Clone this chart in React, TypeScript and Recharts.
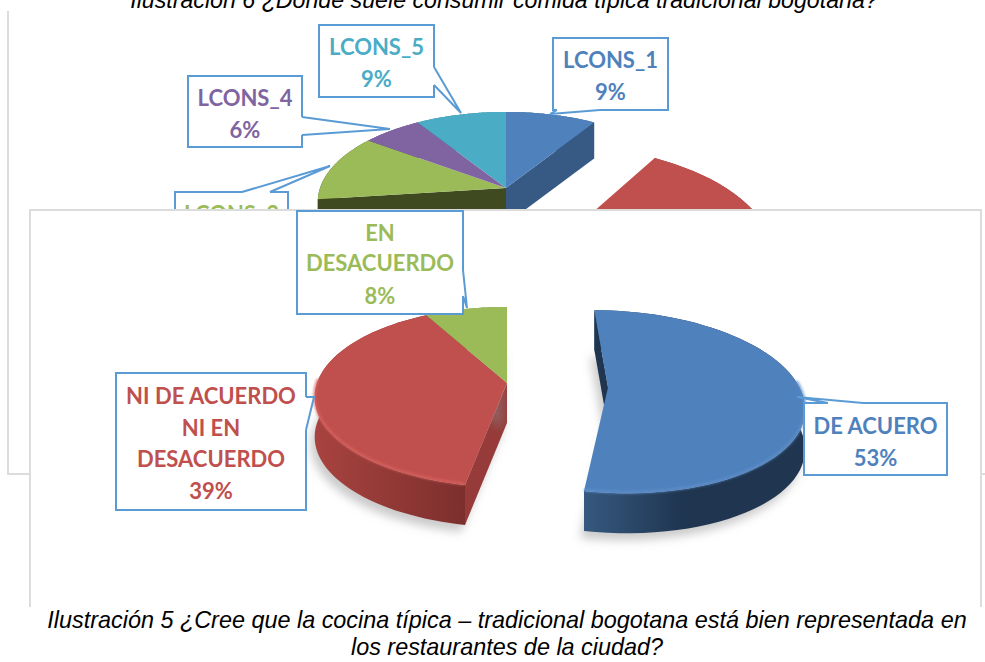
import React from "react";
import { Pie, PieChart } from "recharts";

// back chart (mostly hidden by the front panel)
const backNames = ["LCONS_1", "LCONS_2", "LCONS_3", "LCONS_4", "LCONS_5"];
const backValues = [9, 64, 12, 6, 9];
const backTop = ["#4f81bd", "#c0504d", "#9bbb59", "#8064a2", "#4bacc6"];
const backSide = ["#375a85", "#8a3836", "#404a20", "#5a4774", "#357a8c"];
const backExplode = [0, 0.575, 0, 0, 0];

// front chart
const frontNames = ["DE ACUERO", "NI DE ACUERDO NI EN DESACUERDO", "EN DESACUERDO"];
const frontValues = [53, 39, 8];
const frontTop = ["#4f81bd", "#c0504d", "#9bbb59"];
const frontSide = ["#1f3550", "#963b39", "#6f8640"];
const frontExplode = [0.53, 0, 0];

const wallStops: Record<string, string[]> = {
  "DE ACUERO": ["#36597f", "#1f3550", "45%"],
  "NI DE ACUERDO NI EN DESACUERDO": ["#a8433f", "#7c2f2d", "100%"],
};
const rimColors: Record<string, string> = {
  "DE ACUERO": "#5f90ca",
  "NI DE ACUERDO NI EN DESACUERDO": "#d9625f",
};

type Callout = { lines: string[]; x: number; y: number; w: number; h: number; tail: number[][]; textY: number[] };

const backCallouts: Record<string, Callout> = {
  LCONS_1: { lines: ["LCONS_1", "9%"], x: 553, y: 38, w: 115, h: 72, tail: [[557, 110], [550, 114], [600, 110]], textY: [59, 91] },
  LCONS_3: { lines: ["LCONS_3"], x: 175, y: 192, w: 113, h: 72, tail: [[242, 192], [330, 166], [270, 192]], textY: [213] },
  LCONS_4: { lines: ["LCONS_4", "6%"], x: 188, y: 76, w: 114, h: 71, tail: [[302, 117], [390, 129], [302, 135]], textY: [97, 129] },
  LCONS_5: { lines: ["LCONS_5", "9%"], x: 319, y: 25, w: 115, h: 72, tail: [[434, 67], [461, 113], [434, 85]], textY: [46, 78] },
};
const frontCallouts: Record<string, Callout> = {
  "DE ACUERO": { lines: ["DE ACUERO", "53%"], x: 804, y: 403, w: 143, h: 72, tail: [[828, 403], [797, 397], [863, 403]], textY: [425, 457] },
  "NI DE ACUERDO NI EN DESACUERDO": {
    lines: ["NI DE ACUERDO", "NI EN", "DESACUERDO", "39%"],
    x: 116, y: 373, w: 190, h: 137, tail: [[306, 397], [314, 397], [306, 430]], textY: [395, 427, 458, 490],
  },
  "EN DESACUERDO": {
    lines: ["EN", "DESACUERDO", "8%"],
    x: 297, y: 211, w: 166, h: 103, tail: [[463, 270], [467, 308], [463, 296]], textY: [232, 262, 295],
  },
};

const PERSPECTIVE = 0.155;
const BOX_BLUE = "#5b9bd5";

function makeTable(names: string[], values: number[], tops: string[], sides: string[], explode: number[]) {
  const n = names.length;
  return names.map((name, i) => ({
    name,
    value: values[i],
    fill: tops[i],
    side: sides[i],
    explode: explode[i],
    // a cut face is only there when this slice or the neighbour is pulled out
    openStart: explode[i] > 0 || explode[(i + n - 1) % n] > 0,
    openEnd: explode[i] > 0 || explode[(i + 1) % n] > 0,
  }));
}

const pathOf = (pts: number[][]) => pts.map((p, i) => `${i ? "L" : "M"}${p[0].toFixed(1)} ${p[1].toFixed(1)}`).join(" ");

// does the side wall along apex->edge show below the top face?
function wallShows(apex: number[], edge: number[], inner: number[]) {
  const dx = edge[0] - apex[0];
  const dy = edge[1] - apex[1];
  return dx * (inner[1] - apex[1]) - dy * (inner[0] - apex[0]) < 0 ? dx > 0 : dx < 0;
}

// 3D slice: the sector recharts hands over, pushed through a small perspective.
// Drawn by two Pies: the walls first, then the tops, so a wall never paints over a neighbour.
function makeSlice(ry: number, depth: number, rim: boolean, pass: "wall" | "top") {
  return function Slice(props: any) {
    const { cx, cy, outerRadius, startAngle, endAngle, payload } = props;
    const row = payload ?? props;
    const t0 = ((90 - startAngle) * Math.PI) / 180;
    const t1 = ((90 - endAngle) * Math.PI) / 180;
    const mid = (t0 + t1) / 2;
    const ou = row.explode * Math.sin(mid);
    const ov = -row.explode * Math.cos(mid);
    const project = (u: number, v: number) => {
      const w = 1 - PERSPECTIVE * v;
      return [cx + (outerRadius * u) / w, cy + (ry * v) / w];
    };
    const arc: number[][] = [];
    const steps = 64;
    for (let i = 0; i <= steps; i++) {
      const t = t0 + ((t1 - t0) * i) / steps;
      arc.push(project(ou + Math.sin(t), ov - Math.cos(t)));
    }
    const apex = project(ou, ov);
    const gid = `wall-${row.name.replace(/\s/g, "-")}`;

    if (pass === "top") {
      const front = arc.filter((p) => p[1] > cy - 4);
      return (
        <g>
          <defs>
            <filter id={`${gid}-rim`} x="-10%" y="-10%" width="120%" height="120%">
              <feGaussianBlur stdDeviation="0.8" />
            </filter>
          </defs>
          <path d={pathOf([apex, ...arc]) + " Z"} fill={row.fill} />
          {rim && rimColors[row.name] && front.length > 1 && (
            <path
              d={pathOf(front)}
              transform="translate(0 -1)"
              fill="none"
              stroke={rimColors[row.name]}
              strokeWidth={3}
              strokeOpacity={0.7}
              filter={`url(#${gid}-rim)`}
            />
          )}
        </g>
      );
    }

    const down = (p: number[]) => [p[0], p[1] + depth];
    const first = arc[0];
    const last = arc[arc.length - 1];
    const wall = pathOf([...arc, ...arc.map(down).reverse()]) + " Z";
    const bottom = pathOf([down(apex), ...arc.map(down)]) + " Z";
    const stops = wallStops[row.name];
    return (
      <g>
        <defs>
          <filter id={`${gid}-soft`} x="-20%" y="-20%" width="140%" height="140%">
            <feGaussianBlur stdDeviation="5" />
          </filter>
          {stops && (
            <linearGradient id={gid} x1="0" y1="0" x2="1" y2="0">
              <stop offset="0%" stopColor={stops[0]} />
              <stop offset={stops[2]} stopColor={stops[1]} />
            </linearGradient>
          )}
        </defs>
        {rim && <path d={bottom} transform="translate(-4 7)" fill="#8a8a8a" fillOpacity={0.45} filter={`url(#${gid}-soft)`} />}
        <path d={wall} fill={stops ? `url(#${gid})` : row.side} />
        {row.openStart && wallShows(apex, first, arc[1]) && <path d={pathOf([apex, first, down(first), down(apex)]) + " Z"} fill={row.side} />}
        {row.openEnd && wallShows(apex, last, arc[steps - 1]) && <path d={pathOf([apex, last, down(last), down(apex)]) + " Z"} fill={row.side} />}
      </g>
    );
  };
}

function makeLabel(callouts: Record<string, Callout>) {
  return function CalloutLabel(props: any) {
    const c = callouts[props.name];
    if (!c) return null;
    const [a, tip, b] = c.tail;
    return (
      <g>
        <rect x={c.x} y={c.y} width={c.w} height={c.h} fill="#fff" stroke={BOX_BLUE} strokeWidth={2} />
        <path d={pathOf([a, tip, b])} fill="#fff" stroke="none" />
        <path d={pathOf([a, b])} fill="none" stroke="#fff" strokeWidth={3} />
        <path d={pathOf([a, tip, b])} fill="none" stroke={BOX_BLUE} strokeWidth={2} />
        {c.lines.map((line, i) => (
          <text
            key={line}
            x={c.x + c.w / 2}
            y={c.textY[i]}
            textAnchor="middle"
            dominantBaseline="central"
            fontFamily="Lato, sans-serif"
            fontWeight={700}
            fontSize={22}
            fill={props.fill}
          >
            {line}
          </text>
        ))}
      </g>
    );
  };
}

const backData = makeTable(backNames, backValues, backTop, backSide, backExplode);
const frontData = makeTable(frontNames, frontValues, frontTop, frontSide, frontExplode);

const layer: React.CSSProperties = { position: "absolute", left: 0, top: 0 };
const captionFont: React.CSSProperties = {
  fontFamily: "'Liberation Sans', Arial, sans-serif",
  fontStyle: "italic",
  color: "#000",
  textAlign: "center",
  whiteSpace: "nowrap",
};
const backPie = { dataKey: "value", nameKey: "name", cx: 506, cy: 188, outerRadius: 186, startAngle: 90, endAngle: -270, stroke: "none" };
const frontPie = { dataKey: "value", nameKey: "name", cx: 507, cy: 383, outerRadius: 190, startAngle: 90, endAngle: -270, stroke: "none" };

export default function App() {
  return (
    <div style={{ ...layer, width: 985, height: 662, overflow: "hidden", background: "#fff" }}>
      <div style={{ ...captionFont, position: "absolute", left: 0, width: 1008, top: -12, fontSize: 23.2, lineHeight: "24px" }}>
        Ilustración 6 ¿Donde suele consumir comida típica tradicional bogotana?
      </div>

      {/* back chart and its panel */}
      <div style={{ position: "absolute", left: 7, top: 11, width: 990, height: 462, borderLeft: "2px solid #dcdcdc", borderBottom: "2px solid #dcdcdc" }} />
      <div style={layer}>
        <PieChart width={985} height={662} margin={{ top: 0, right: 0, bottom: 0, left: 0 }}>
          <Pie {...backPie} data={backData} shape={makeSlice(87.9, 36, false, "wall")} label={false} labelLine={false} isAnimationActive={false} />
          <Pie {...backPie} data={backData} shape={makeSlice(87.9, 36, false, "top")} label={makeLabel(backCallouts)} labelLine={false} isAnimationActive={false} />
        </PieChart>
      </div>

      {/* front panel sits on top of the back chart */}
      <div style={{ position: "absolute", left: 29, top: 209, width: 953, height: 460, background: "#fff", border: "2px solid #dcdcdc", boxSizing: "border-box" }} />
      <div style={layer}>
        <PieChart width={985} height={662} margin={{ top: 0, right: 0, bottom: 0, left: 0 }}>
          <Pie {...frontPie} data={frontData} shape={makeSlice(87.9, 40, true, "wall")} label={false} labelLine={false} isAnimationActive={false} />
          <Pie {...frontPie} data={frontData} shape={makeSlice(87.9, 40, true, "top")} label={makeLabel(frontCallouts)} labelLine={false} isAnimationActive={false} />
        </PieChart>
      </div>

      <div style={{ ...captionFont, position: "absolute", left: 29, width: 956, top: 607, height: 55, background: "#fff", fontSize: 23.4, lineHeight: "27px" }}>
        Ilustración 5 ¿Cree que la cocina típica – tradicional bogotana está bien representada en
        <br />
        los restaurantes de la ciudad?
      </div>
    </div>
  );
}
